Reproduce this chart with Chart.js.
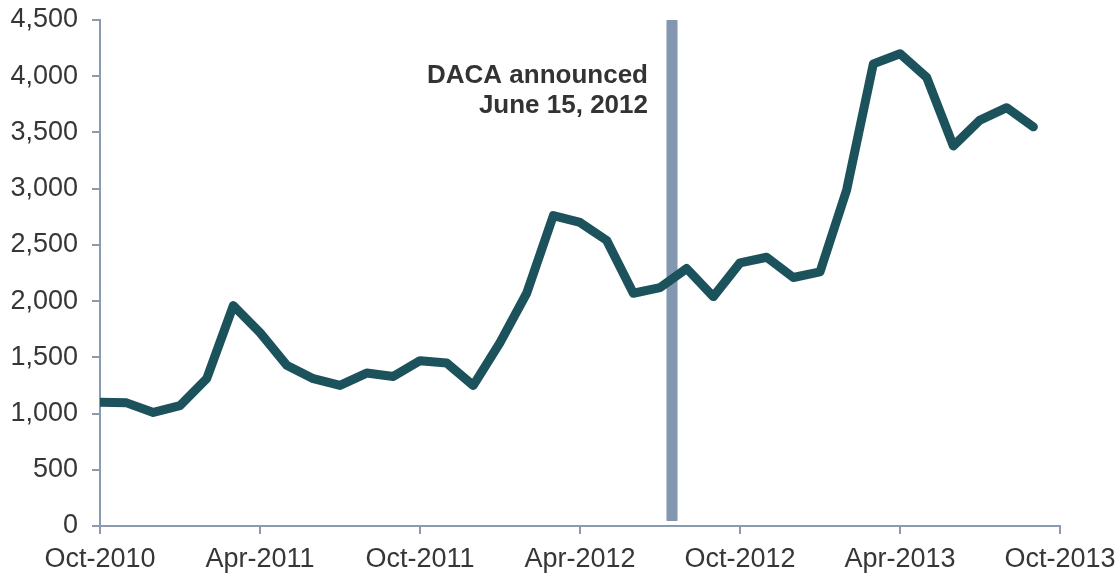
<!DOCTYPE html>
<html>
<head>
<meta charset="utf-8">
<script src="https://cdn.jsdelivr.net/npm/chart.js@4/dist/chart.umd.min.js"></script>
<style>
    html, body { margin: 0; padding: 0; background: #fff; }
    canvas { display: block; }
</style>
</head>
<body>
<canvas id="dacaChart" width="1120" height="573"></canvas>
<script>
// Monthly values, Oct-2010 through Sep-2013
const months = [
    'Oct-2010', 'Nov-2010', 'Dec-2010', 'Jan-2011', 'Feb-2011', 'Mar-2011',
    'Apr-2011', 'May-2011', 'Jun-2011', 'Jul-2011', 'Aug-2011', 'Sep-2011',
    'Oct-2011', 'Nov-2011', 'Dec-2011', 'Jan-2012', 'Feb-2012', 'Mar-2012',
    'Apr-2012', 'May-2012', 'Jun-2012', 'Jul-2012', 'Aug-2012', 'Sep-2012',
    'Oct-2012', 'Nov-2012', 'Dec-2012', 'Jan-2013', 'Feb-2013', 'Mar-2013',
    'Apr-2013', 'May-2013', 'Jun-2013', 'Jul-2013', 'Aug-2013', 'Sep-2013'
];
const values = [
    1100, 1095, 1010, 1070, 1310, 1960,
    1720, 1430, 1310, 1250, 1360, 1330,
    1470, 1450, 1250, 1630, 2070, 2760,
    2700, 2540, 2070, 2120, 2290, 2040,
    2340, 2390, 2210, 2260, 2990, 4110,
    4200, 3990, 3380, 3610, 3720, 3550
];
const xTickLabels = ['Oct-2010', 'Apr-2011', 'Oct-2011', 'Apr-2012', 'Oct-2012', 'Apr-2013', 'Oct-2013'];
const yTicks = [0, 500, 1000, 1500, 2000, 2500, 3000, 3500, 4000, 4500];

// position of the announcement marker on the month axis
const announcePos = 21.45;
const announceText = ['DACA announced', 'June 15, 2012'];

const axisColor = '#8a9bb0';
const textColor = '#363636';
const fontFamily = '"Liberation Sans", Arial, Helvetica, sans-serif';

const announcePlugin = {
    id: 'announce',
    beforeDatasetsDraw(chart) {
        const { ctx, chartArea, scales } = chart;
        const x = scales.x.getPixelForValue(announcePos);
        ctx.save();
        ctx.fillStyle = '#8497b0';
        ctx.fillRect(x - 5.5, chartArea.top, 11, chartArea.bottom - chartArea.top - 5);
        ctx.fillStyle = '#333333';
        ctx.font = 'bold 26px ' + fontFamily;
        ctx.textAlign = 'right';
        ctx.textBaseline = 'alphabetic';
        ctx.fillText(announceText[0], x - 24, chartArea.top + 63);
        ctx.fillText(announceText[1], x - 24, chartArea.top + 93);
        ctx.restore();
    }
};

const ctx = document.getElementById('dacaChart').getContext('2d');
new Chart(ctx, {
    type: 'line',
    data: {
        datasets: [{
            label: 'Applications',
            data: values.map((v, i) => ({ x: i, y: v })),
            borderColor: '#1c525c',
            borderWidth: 9,
            borderCapStyle: 'round',
            borderJoinStyle: 'round',
            pointRadius: 0,
            tension: 0,
            fill: false
        }]
    },
    options: {
        responsive: false,
        animation: false,
        layout: { padding: { top: 20, right: 60, left: 0, bottom: 0 } },
        plugins: {
            legend: { display: false },
            tooltip: { enabled: false }
        },
        scales: {
            x: {
                type: 'linear',
                min: 0,
                max: 36,
                afterBuildTicks(scale) {
                    scale.ticks = xTickLabels.map((_, i) => ({ value: i * 6 }));
                },
                afterFit(scale) {
                    scale.height = 47;
                    // let the end labels overhang instead of shrinking the plot
                    scale.paddingLeft = 0;
                    scale.paddingRight = 0;
                },
                grid: {
                    drawOnChartArea: false,
                    color: axisColor,
                    lineWidth: 2,
                    tickLength: 8
                },
                border: { color: axisColor, width: 2 },
                ticks: {
                    color: textColor,
                    font: { family: fontFamily, size: 27 },
                    padding: 9,
                    maxRotation: 0,
                    autoSkip: false,
                    callback: (value) => xTickLabels[value / 6]
                }
            },
            y: {
                min: 0,
                max: 4500,
                afterBuildTicks(scale) {
                    scale.ticks = yTicks.map(v => ({ value: v }));
                },
                afterFit(scale) {
                    scale.width = 100;
                    scale.paddingTop = 0;
                    scale.paddingBottom = 0;
                },
                grid: {
                    drawOnChartArea: false,
                    color: axisColor,
                    lineWidth: 2,
                    tickLength: 8
                },
                border: { color: axisColor, width: 2 },
                ticks: {
                    color: textColor,
                    font: { family: fontFamily, size: 27 },
                    padding: 14,
                    callback: (value) => value.toLocaleString('en-US')
                }
            }
        }
    },
    plugins: [announcePlugin]
});
</script>
</body>
</html>
